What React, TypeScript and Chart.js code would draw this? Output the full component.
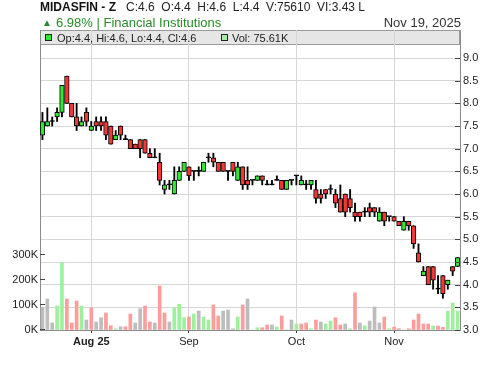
import React, { useEffect, useRef } from 'react';
import { Chart, registerables } from 'chart.js';

Chart.register(...registerables);

// ---- data ----
const dates = [
  '2025-07-20', '2025-07-21', '2025-07-22', '2025-07-23', '2025-07-24', '2025-07-27', '2025-07-28', '2025-07-29', '2025-07-30', '2025-07-31',
  '2025-08-03', '2025-08-04', '2025-08-06', '2025-08-07', '2025-08-10', '2025-08-11', '2025-08-12', '2025-08-13', '2025-08-14', '2025-08-17',
  '2025-08-18', '2025-08-19', '2025-08-20', '2025-08-21', '2025-08-24', '2025-08-25', '2025-08-26', '2025-08-27', '2025-08-28', '2025-08-31',
  '2025-09-01', '2025-09-02', '2025-09-03', '2025-09-04', '2025-09-07', '2025-09-08', '2025-09-09', '2025-09-10', '2025-09-11', '2025-09-14',
  '2025-09-15', '2025-09-16', '2025-09-17', '2025-09-18', '2025-09-21', '2025-09-22', '2025-09-23', '2025-09-24', '2025-09-25', '2025-09-28',
  '2025-09-29', '2025-09-30',
  '2025-10-05', '2025-10-06', '2025-10-07', '2025-10-08', '2025-10-09', '2025-10-12', '2025-10-13', '2025-10-14', '2025-10-15', '2025-10-16',
  '2025-10-19', '2025-10-20', '2025-10-21', '2025-10-22', '2025-10-23', '2025-10-26', '2025-10-27', '2025-10-28', '2025-10-29', '2025-10-30',
  '2025-11-02', '2025-11-03', '2025-11-04', '2025-11-05', '2025-11-06', '2025-11-09', '2025-11-10', '2025-11-11', '2025-11-12', '2025-11-13',
  '2025-11-16', '2025-11-17', '2025-11-18', '2025-11-19',
];

const opens = [
  7.3, 7.5, 7.6, 7.7, 7.8, 8.6, 8.0, 7.7, 7.5, 7.8,
  7.4, 7.6, 7.6, 7.6, 7.5, 7.2, 7.5, 7.2, 7.2, 7.1,
  7.2, 7.2, 6.9, 6.8, 6.7, 6.1, 6.2, 6.0, 6.3, 6.5,
  6.6, 6.5, 6.5, 6.5, 6.8, 6.8, 6.7, 6.7, 6.5, 6.7,
  6.3, 6.6, 6.3, 6.3, 6.3, 6.4, 6.2, 6.2, 6.3, 6.3,
  6.1, 6.3, 6.4, 6.2, 6.2, 6.2, 6.1, 6.0, 6.1, 6.1,
  6.0, 5.9, 6.0, 5.9, 5.6, 5.6, 5.6, 5.7, 5.7, 5.4,
  5.6, 5.5, 5.5, 5.4, 5.2, 5.4, 5.3, 4.7, 4.2, 4.4,
  4.4, 3.9, 4.2, 4.0, 4.4, 4.4,
];
const highs = [
  7.8, 7.9, 7.7, 7.9, 8.4, 8.6, 8.0, 8.0, 7.7, 7.9,
  7.6, 7.7, 7.7, 7.7, 7.5, 7.4, 7.5, 7.3, 7.2, 7.1,
  7.2, 7.2, 7.0, 7.0, 6.9, 6.3, 6.3, 6.6, 6.6, 6.7,
  6.6, 6.5, 6.6, 6.7, 6.9, 6.9, 6.7, 6.7, 6.5, 6.7,
  6.7, 6.6, 6.6, 6.3, 6.4, 6.4, 6.3, 6.3, 6.4, 6.3,
  6.3, 6.3, 6.4, 6.4, 6.3, 6.3, 6.3, 6.1, 6.1, 6.2,
  6.1, 6.2, 6.0, 6.1, 5.8, 5.6, 5.7, 5.8, 5.7, 5.7,
  5.6, 5.5, 5.5, 5.4, 5.5, 5.4, 5.3, 4.9, 4.4, 4.4,
  4.4, 4.2, 4.2, 4.1, 4.4, 4.6,
];
const lows = [
  7.2, 7.5, 7.5, 7.6, 7.7, 8.0, 7.7, 7.4, 7.5, 7.5,
  7.4, 7.4, 7.4, 7.2, 7.1, 7.2, 7.2, 7.2, 7.0, 7.0,
  6.8, 6.9, 6.8, 6.8, 6.2, 6.0, 6.1, 6.0, 6.3, 6.5,
  6.3, 6.3, 6.4, 6.5, 6.7, 6.6, 6.5, 6.5, 6.3, 6.4,
  6.3, 6.1, 6.1, 6.2, 6.3, 6.2, 6.2, 6.2, 6.3, 6.1,
  6.1, 6.2, 6.2, 6.2, 6.1, 6.1, 5.8, 5.8, 5.9, 6.0,
  5.7, 5.6, 5.5, 5.6, 5.4, 5.4, 5.5, 5.5, 5.5, 5.4,
  5.3, 5.4, 5.4, 5.3, 5.2, 5.2, 4.8, 4.5, 4.2, 4.0,
  3.9, 3.8, 3.7, 3.9, 4.2, 4.4,
];
const closes = [
  7.6, 7.6, 7.6, 7.8, 8.4, 8.0, 7.7, 7.5, 7.6, 7.6,
  7.5, 7.5, 7.5, 7.3, 7.1, 7.3, 7.3, 7.2, 7.0, 7.0,
  7.0, 6.9, 6.8, 6.8, 6.3, 6.2, 6.2, 6.3, 6.5, 6.7,
  6.4, 6.5, 6.5, 6.7, 6.8, 6.7, 6.5, 6.5, 6.5, 6.5,
  6.6, 6.2, 6.2, 6.3, 6.4, 6.3, 6.2, 6.2, 6.3, 6.1,
  6.3, 6.3, 6.4, 6.3, 6.2, 6.3, 5.9, 5.9, 6.0, 6.1,
  5.8, 5.6, 5.6, 5.7, 5.5, 5.5, 5.6, 5.6, 5.6, 5.6,
  5.4, 5.5, 5.4, 5.3, 5.4, 5.3, 4.9, 4.5, 4.3, 4.0,
  4.1, 3.9, 3.8, 4.1, 4.3, 4.6,
];
const volumes = [
  90000, 124000, 28000, 96000, 269000, 124000, 28000, 116000, 96000, 40000,
  89000, 32000, 49000, 68000, 17000, 5000, 13000, 13000, 64000, 28000,
  85000, 96000, 32000, 28000, 176000, 68000, 32000, 89000, 103000, 49000,
  52000, 64000, 76000, 52000, 40000, 100000, 56000, 76000, 80000, 5000,
  52000, 100000, 124000, 0, 9000, 9000, 20000, 20000, 12000, 56000,
  0, 40000, 24000, 24000, 28000, 5000, 40000, 32000, 24000, 36000,
  49000, 20000, 24000, 5000, 149000, 28000, 17000, 36000, 92000, 28000,
  52000, 5000, 12000, 5000, 0, 5000, 40000, 64000, 24000, 24000,
  16000, 16000, 11000, 75000, 108000, 75610,
];
const prevCloseBefore = 7.6;

const priceTicks = [3.0, 3.5, 4.0, 4.5, 5.0, 5.5, 6.0, 6.5, 7.0, 7.5, 8.0, 8.5, 9.0];
const volumeTicks = [0, 100000, 200000, 300000];
const monthNames = ['Jan', 'Feb', 'Mar', 'Apr', 'May', 'Jun', 'Jul', 'Aug', 'Sep', 'Oct', 'Nov', 'Dec'];

const titleSymbol = 'MIDASFIN - Z';
const titleStats = 'C:4.6  O:4.4  H:4.6  L:4.4  V:75610  VI:3.43 L';
const changeText = '6.98% | Financial Institutions';
const dateText = 'Nov 19, 2025';
const legendOhlc = 'Op:4.4, Hi:4.6, Lo:4.4, Cl:4.6';
const legendVol = 'Vol: 75.61K';

// ---- styles ----
const FONT = "'Liberation Sans', Arial, sans-serif";
const UP = '#35e635';
const DOWN = '#f03838';
const VOL_UP = '#9ef09e';
const VOL_DOWN = '#ff9c9c';
const VOL_FLAT = '#bdbdbd';
const GRID = '#d6d6d6';
const AXIS = '#8a8a8a';
const TEXT = '#222222';

const isMonthStart = (i: number) => i > 0 && i < dates.length && dates[i].slice(5, 7) !== dates[i - 1].slice(5, 7);
const firstBoundary = dates.findIndex((_, i) => isMonthStart(i));

const headerPlugin = {
  id: 'header',
  beforeDraw(chart: any) {
    const { ctx, chartArea } = chart;
    ctx.save();
    ctx.fillStyle = '#e6e6e6';
    ctx.fillRect(chartArea.left, chartArea.top, chartArea.right - chartArea.left, 14);
    ctx.strokeStyle = '#9a9a9a';
    ctx.lineWidth = 1;
    ctx.strokeRect(chartArea.left + 0.5, chartArea.top + 0.5, chartArea.right - chartArea.left - 1, 14);
    ctx.restore();
  },
  afterDraw(chart: any) {
    const { ctx, chartArea, scales } = chart;
    ctx.save();
    // inner tick marks
    ctx.strokeStyle = '#444';
    ctx.lineWidth = 1;
    const py = scales.y;
    py.ticks.forEach((t: any) => {
      const y = Math.round(py.getPixelForValue(t.value)) + 0.5;
      ctx.beginPath();
      ctx.moveTo(chartArea.right - 5, y);
      ctx.lineTo(chartArea.right, y);
      ctx.stroke();
    });
    const vy = scales.yv;
    vy.ticks.forEach((t: any) => {
      const y = Math.round(vy.getPixelForValue(t.value)) - 0.5;
      ctx.beginPath();
      ctx.moveTo(chartArea.left, y);
      ctx.lineTo(chartArea.left + 5, y);
      ctx.stroke();
    });

    // header line 1
    ctx.textBaseline = 'alphabetic';
    ctx.textAlign = 'left';
    ctx.fillStyle = '#111';
    ctx.font = `bold 12px ${FONT}`;
    ctx.fillText(titleSymbol, 40, 11);
    ctx.font = `12px ${FONT}`;
    ctx.fillStyle = TEXT;
    ctx.fillText(titleStats, 126, 11);

    // header line 2
    ctx.fillStyle = '#2a8a2a';
    ctx.font = `10px ${FONT}`;
    ctx.fillText('▲', 42, 26);
    ctx.font = `13px ${FONT}`;
    ctx.fillText(changeText, 56, 26.5);
    ctx.fillStyle = '#333';
    ctx.textAlign = 'right';
    ctx.fillText(dateText, 461, 26.5);

    // legend
    ctx.textAlign = 'left';
    ctx.font = `11px ${FONT}`;
    ctx.fillStyle = UP;
    ctx.fillRect(45, 34, 7, 7);
    ctx.strokeStyle = '#222';
    ctx.strokeRect(45.5, 34.5, 6, 6);
    ctx.fillStyle = TEXT;
    ctx.fillText(legendOhlc, 57, 41.5);
    ctx.fillStyle = VOL_UP;
    ctx.fillRect(221, 34, 7, 7);
    ctx.strokeRect(221.5, 34.5, 6, 6);
    ctx.fillStyle = TEXT;
    ctx.fillText(legendVol, 232, 41.5);
    ctx.restore();
  },
};

export default function App() {
  const canvasRef = useRef<HTMLCanvasElement | null>(null);

  useEffect(() => {
    const canvas = canvasRef.current;
    if (!canvas) return;

    const bodyColors = opens.map((o, i) => (closes[i] > o ? UP : closes[i] < o ? DOWN : '#000000'));
    const volColors = closes.map((c, i) => {
      const prev = i === 0 ? prevCloseBefore : closes[i - 1];
      return c > prev ? VOL_UP : c < prev ? VOL_DOWN : VOL_FLAT;
    });

    const chart = new Chart(canvas, {
      type: 'bar',
      data: {
        labels: dates,
        datasets: [
          {
            label: 'body',
            data: opens.map((o, i) => [o, closes[i]]) as any,
            backgroundColor: bodyColors,
            borderColor: '#000000',
            borderWidth: 1,
            borderSkipped: false,
            barThickness: 4.6,
            minBarLength: 1,
            grouped: false,
            yAxisID: 'y',
            order: 1,
          },
          {
            label: 'wick',
            data: lows.map((l, i) => [l, highs[i]]) as any,
            backgroundColor: '#000000',
            borderWidth: 0,
            barThickness: 1.2,
            grouped: false,
            yAxisID: 'y',
            order: 2,
          },
          {
            label: 'volume',
            data: volumes,
            backgroundColor: volColors,
            borderWidth: 0,
            barThickness: 3,
            grouped: false,
            yAxisID: 'yv',
            order: 3,
          },
        ],
      },
      options: {
        responsive: false,
        animation: false,
        devicePixelRatio: 1,
        layout: { padding: { top: 30, left: 0, right: 0, bottom: 0 } },
        plugins: { legend: { display: false }, tooltip: { enabled: false } },
        scales: {
          x: {
            type: 'category',
            offset: true,
            grid: {
              offset: false,
              color: (c: any) => (isMonthStart(c.index) ? GRID : 'rgba(0,0,0,0)'),
              lineWidth: 1,
              drawTicks: true,
              tickLength: 3,
              tickColor: (c: any) => (isMonthStart(c.index) ? '#333' : 'rgba(0,0,0,0)'),
            },
            border: { color: AXIS, width: 1 },
            ticks: {
              autoSkip: false,
              maxRotation: 0,
              minRotation: 0,
              padding: 2,
              color: TEXT,
              font: (c: any) => ({ family: FONT, size: 11, weight: c.index === firstBoundary ? 'bold' : 'normal' }),
              callback: (_v: any, i: number) => {
                if (!isMonthStart(i)) return '';
                const m = monthNames[parseInt(dates[i].slice(5, 7), 10) - 1];
                return i === firstBoundary ? `${m} ${dates[i].slice(2, 4)}` : m;
              },
            },
            afterFit: (s: any) => {
              s.height = 36;
            },
          },
          y: {
            position: 'right',
            min: 3,
            max: 9.618,
            afterBuildTicks: (s: any) => {
              s.ticks = priceTicks.map((v) => ({ value: v }));
            },
            grid: { color: GRID, lineWidth: 1, drawTicks: false },
            border: { color: AXIS, width: 1 },
            ticks: {
              padding: 3,
              color: TEXT,
              font: { family: FONT, size: 11 },
              callback: (v: any) => Number(v).toFixed(1),
            },
            afterFit: (s: any) => {
              s.width = 40;
            },
          },
          yv: {
            position: 'left',
            min: 0,
            max: 1200000,
            afterBuildTicks: (s: any) => {
              s.ticks = volumeTicks.map((v) => ({ value: v }));
            },
            grid: { drawOnChartArea: false, drawTicks: false },
            border: { color: AXIS, width: 1 },
            ticks: {
              padding: 2,
              color: TEXT,
              font: { family: FONT, size: 11 },
              callback: (v: any) => `${Math.round(Number(v) / 1000)}K`,
            },
            afterFit: (s: any) => {
              s.width = 40;
            },
          },
        },
      },
      plugins: [headerPlugin],
    });

    return () => chart.destroy();
  }, []);

  return (
    <div style={{ position: 'absolute', left: 0, top: 0, width: 500, height: 366, background: '#ffffff' }}>
      <canvas ref={canvasRef} width={500} height={366} style={{ display: 'block', width: 500, height: 366 }} />
    </div>
  );
}
